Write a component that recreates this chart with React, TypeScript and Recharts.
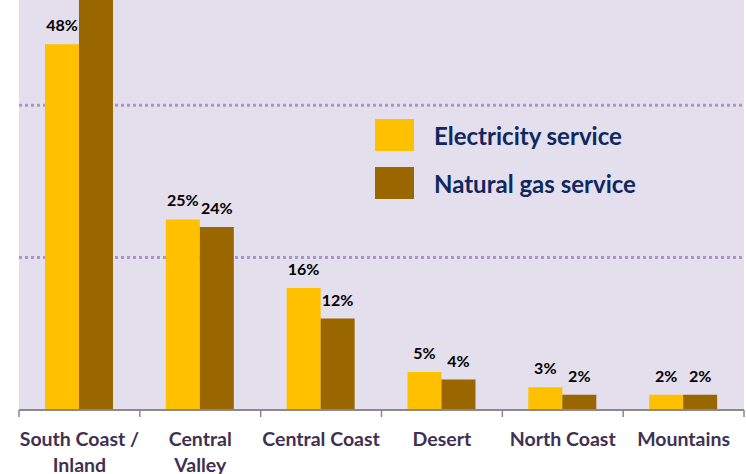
import React from "react";
import { BarChart, Bar, XAxis, YAxis, CartesianGrid, LabelList, Legend } from "recharts";

const categories = ["South Coast /\nInland", "Central\nValley", "Central Coast", "Desert", "North Coast", "Mountains"];
const electricity = [48, 25, 16, 5, 3, 2];
const naturalGas = [56, 24, 12, 4, 2, 2];
const gridTicks = [20, 40];
const yMax = 53.8;

const data = categories.map((c, i) => ({ name: c, electricity: electricity[i], gas: naturalGas[i] }));

const W = 746;
const H = 474;
const margin = { top: 0, right: 2, bottom: 0, left: 19 };
const FONT = "Lato, 'Open Sans', sans-serif";

const CategoryTick = (props: any) => {
  const { x, y, payload, index } = props;
  const bw = (W - margin.left - margin.right) / categories.length;
  const lines = String(payload.value).split("\n");
  return (
    <g>
      <line x1={x - bw / 2} x2={x - bw / 2} y1={y} y2={y + 7} stroke="#8a8a8a" strokeWidth={1.5} />
      {index === categories.length - 1 && (
        <line x1={x + bw / 2} x2={x + bw / 2} y1={y} y2={y + 7} stroke="#8a8a8a" strokeWidth={1.5} />
      )}
      <text textAnchor="middle" fill="#3F3151" fontFamily={FONT} fontWeight={700} fontSize={19.5}>
        {lines.map((l, i) => (
          <tspan key={i} x={x} y={y + 36 + i * 26}>{l}</tspan>
        ))}
      </text>
    </g>
  );
};

const renderLegend = (props: any) => {
  const { payload } = props;
  return (
    <div>
      {payload.map((p: any, i: number) => (
        <div key={i} style={{ display: "flex", alignItems: "center", height: 48 }}>
          <div style={{ width: 39, height: 32, background: p.color, marginRight: 20 }} />
          <span style={{ color: "#10275F", fontFamily: FONT, fontWeight: 700, fontSize: 24 }}>{p.value}</span>
        </div>
      ))}
    </div>
  );
};

const gridGen = (p: any) => {
  const s = p && p.yAxis && p.yAxis.scale;
  if (typeof s === "function") return gridTicks.map((t) => s(t));
  if (s && typeof s.map === "function") return gridTicks.map((t) => s.map(t));
  const top = p.offset.top;
  const h = p.offset.height;
  return gridTicks.map((t) => top + h * (1 - t / yMax));
};

const fmt = (v: any) => (Number(v) > yMax ? "" : `${v}%`);
const labelStyle = { fill: "#000", fontFamily: FONT, fontWeight: 700, fontSize: 16 };

export default function App() {
  return (
    <div style={{ position: "absolute", left: 0, top: 0, width: W, height: H, background: "#fff" }}>
      <BarChart width={W} height={H} data={data} margin={margin} barGap={0} barCategoryGap="21.5%">
        <CartesianGrid
          fill="#E4DFEC"
          vertical={false}
          stroke="#A896C8"
          strokeWidth={3}
          strokeDasharray="3 3"
          horizontalCoordinatesGenerator={gridGen}
        />
        <XAxis
          dataKey="name"
          interval={0}
          height={64}
          tickSize={0}
          tickMargin={0}
          tickLine={false}
          axisLine={{ stroke: "#8a8a8a", strokeWidth: 2 }}
          tick={<CategoryTick />}
        />
        <YAxis hide domain={[0, yMax]} ticks={gridTicks} allowDataOverflow />
        <Legend
          layout="vertical"
          verticalAlign="middle"
          align="center"
          content={renderLegend}
          wrapperStyle={{ left: 375, top: 111, width: 320 }}
        />
        <Bar dataKey="electricity" name="Electricity service" fill="#FFC000" isAnimationActive={false}>
          <LabelList dataKey="electricity" position="top" offset={13} formatter={fmt} style={labelStyle} />
        </Bar>
        <Bar dataKey="gas" name="Natural gas service" fill="#996600" isAnimationActive={false}>
          <LabelList dataKey="gas" position="top" offset={13} formatter={fmt} style={labelStyle} />
        </Bar>
      </BarChart>
    </div>
  );
}
